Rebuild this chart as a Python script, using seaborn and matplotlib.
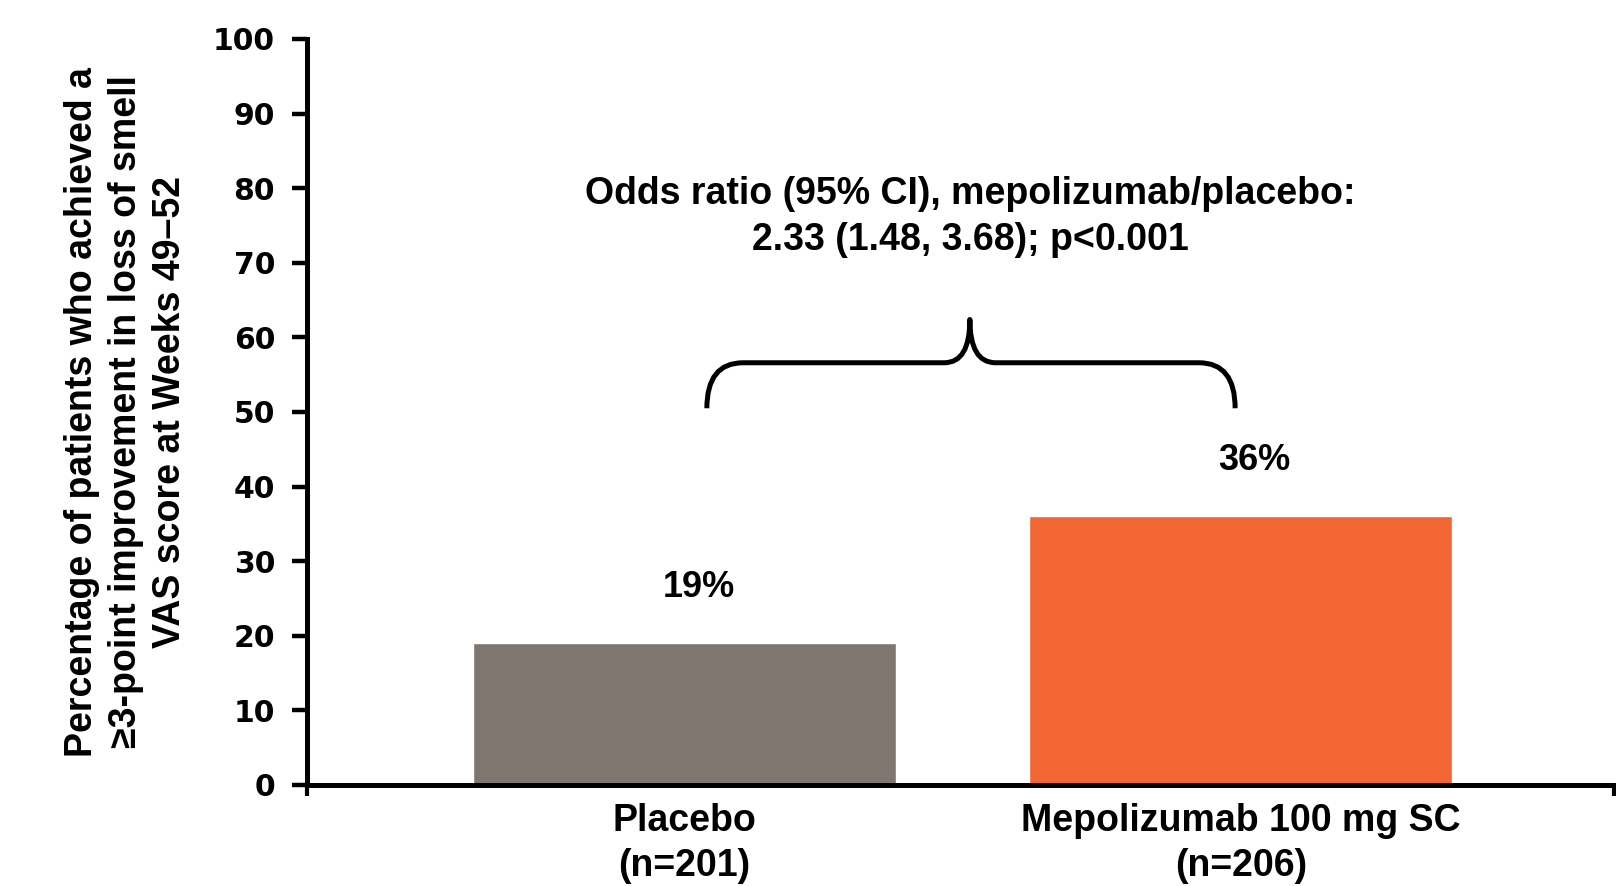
import pandas as pd
import seaborn as sns
import matplotlib.pyplot as plt
from matplotlib.path import Path
from matplotlib.patches import PathPatch

# Data
groups = ["Placebo", "Mepolizumab 100 mg SC"]
n_patients = [201, 206]
pct_responders = [19, 36]
bar_colors = ["#807670", "#F26534"]

odds_text = "Odds ratio (95% CI), mepolizumab/placebo:\n2.33 (1.48, 3.68); p<0.001"
y_title = ("Percentage of patients who achieved a\n"
           "\u22653-point improvement in loss of smell\n"
           "VAS score at Weeks 49\u201352")

df = pd.DataFrame({"group": groups, "pct": pct_responders})

sns.set_style("white")
plt.rcParams["font.family"] = ["Liberation Sans", "DejaVu Sans"]
plt.rcParams["font.weight"] = "bold"
for key in ["text.color", "axes.labelcolor", "xtick.color", "ytick.color"]:
    plt.rcParams[key] = "black"

fig = plt.figure(figsize=(16.16, 8.86), dpi=100)
ax = fig.add_axes([0.19, 0.114, 0.809, 0.842])

sns.barplot(data=df, x="group", y="pct", hue="group", palette=bar_colors,
            order=groups, width=0.76, legend=False, saturation=1, ax=ax)

# value labels above bars
for i, v in enumerate(pct_responders):
    ax.text(i + 0.025, v + 7.5, f"{v}%", ha="center", va="center",
            fontsize=26, fontweight="bold")

# brace spanning both bars
x0, x1, xm = 0.04, 0.99, 0.513
yb, yh, yp = 50.5, 56.6, 62.4
r, r2 = 0.065, 0.046
verts = [(x0, yb), (x0, yh), (x0 + r, yh), (xm - r2, yh), (xm, yh), (xm, yp),
         (xm, yh), (xm + r2, yh), (x1 - r, yh), (x1, yh), (x1, yb)]
codes = [Path.MOVETO, Path.CURVE3, Path.CURVE3, Path.LINETO, Path.CURVE3, Path.CURVE3,
         Path.CURVE3, Path.CURVE3, Path.LINETO, Path.CURVE3, Path.CURVE3]
ax.add_patch(PathPatch(Path(verts, codes), fill=False, lw=3.6, color="black",
                       capstyle="butt", joinstyle="round"))

ax.text(xm, 76.1, odds_text, ha="center", va="center", fontsize=27,
        fontweight="bold", linespacing=1.36)

# axes styling
ax.set_xlim(-0.679, 1.672)
ax.set_ylim(0, 100)
ax.set_yticks(range(0, 101, 10))
ax.set_xticks([0, 1])
ax.set_xticklabels([f"{g}\n(n={n})" for g, n in zip(groups, n_patients)],
                   fontsize=27, fontweight="bold", linespacing=1.33)
ax.set_xticks([-0.679, 1.672], minor=True)
ax.tick_params(axis="x", which="major", length=0, pad=13)
ax.tick_params(axis="x", which="minor", length=8, width=3, direction="out",
               bottom=True)
ax.tick_params(axis="y", length=11, width=3.2, direction="out", left=True, pad=12)
for lab in ax.get_yticklabels():
    lab.set_fontweight("bold")
    lab.set_fontfamily("DejaVu Sans")
    lab.set_fontsize(21.5)

for side in ["top", "right"]:
    ax.spines[side].set_visible(False)
for side in ["left", "bottom"]:
    ax.spines[side].set_linewidth(3.6)
    ax.spines[side].set_color("black")

ax.set_xlabel("")
ax.set_ylabel(y_title, fontsize=27, fontweight="bold", linespacing=1.28,
              va="center")
ax.yaxis.set_label_coords(-0.1385, 0.5)

fig.savefig("out.png", dpi=100, facecolor="white")
